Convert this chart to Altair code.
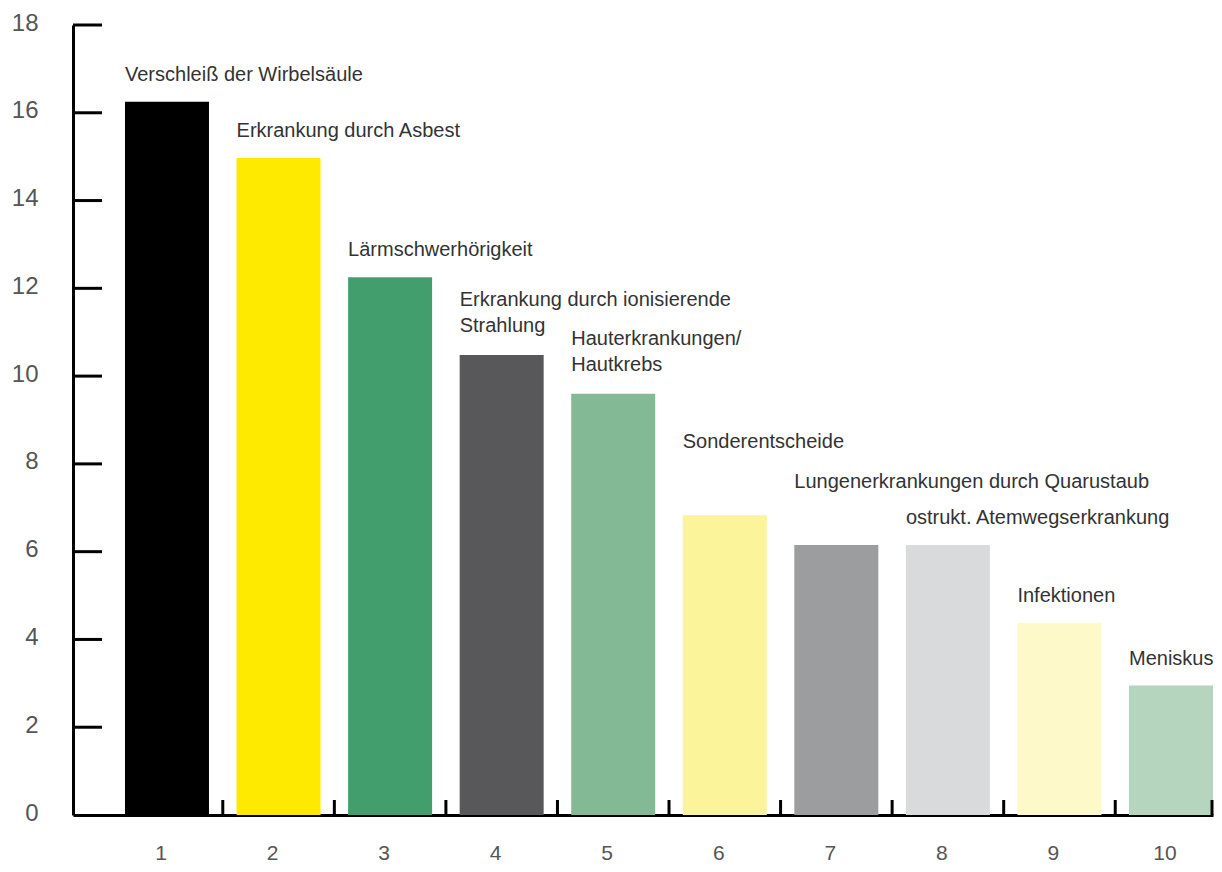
import altair as alt
import pandas as pd

categories = ["1", "2", "3", "4", "5", "6", "7", "8", "9", "10"]
values = [16.25, 14.97, 12.25, 10.48, 9.6, 6.83, 6.15, 6.15, 4.38, 2.95]
labels = [
    "Verschleiß der Wirbelsäule",
    "Erkrankung durch Asbest",
    "Lärmschwerhörigkeit",
    "Erkrankung durch ionisierende|Strahlung",
    "Hauterkrankungen/|Hautkrebs",
    "Sonderentscheide",
    "Lungenerkrankungen durch Quarustaub",
    "ostrukt. Atemwegserkrankung",
    "Infektionen",
    "Meniskus",
]
colors = ["#000000", "#FEEA00", "#439E6E", "#58585A", "#84B995",
          "#FCF49A", "#9C9D9F", "#D9DADB", "#FEF9C8", "#B5D5BE"]
y_ticks = [2, 4, 6, 8, 10, 12, 14, 16, 18]
high_labels = ["6"]
higher_labels = ["7"]

W, H = 1140, 790
FONT = "Liberation Sans"

df = pd.DataFrame({"cat": categories, "value": values, "label": labels})
tick_df = pd.DataFrame({"t": y_ticks})
xtick_df = pd.DataFrame({"cat": categories[:-1]})

xscale = alt.Scale(domain=categories, paddingInner=0.247, paddingOuter=0.233, align=1)
yscale = alt.Scale(domain=[0, 18], nice=False)

xenc = alt.X("cat:N", scale=xscale, sort=categories,
             axis=alt.Axis(title=None, ticks=False, tickSize=0, domainColor="#000000",
                           domainWidth=3, labelFont=FONT, labelFontSize=21,
                           labelColor="#555555", labelPadding=27, labelAngle=0,
                           labelOffset=-6, labelBaseline="top"))
yenc = alt.Y("value:Q", scale=yscale,
             axis=alt.Axis(title=None, values=[0] + y_ticks, ticks=False, tickSize=0,
                           grid=False, domainColor="#000000", domainWidth=3,
                           labelFont=FONT, labelFontSize=24, labelColor="#555555",
                           labelPadding=35, labelBaseline="middle", labelOffset=-2))

bars = alt.Chart(df).mark_bar(size=84).encode(
    x=xenc,
    y=yenc,
    color=alt.Color("cat:N", scale=alt.Scale(domain=categories, range=colors), legend=None),
)

base_text = alt.Chart(df).transform_calculate(
    lines="split(datum.label, '|')",
    nlines="length(split(datum.label, '|'))",
)


def text_layer(dy, flt):
    return base_text.transform_filter(flt).mark_text(
        align="left", baseline="bottom", dy=dy, dx=0, font=FONT, fontSize=20,
        color="#333333", lineHeight=26
    ).encode(
        x=alt.X("cat:N", scale=xscale, sort=categories, bandPosition=0),
        y=alt.Y("value:Q", scale=yscale),
        text="lines:N",
    )


special = high_labels + higher_labels
t_single = text_layer(-17, "datum.nlines == 1 && indexof(%s, datum.cat) < 0" % str(special))
t_multi = text_layer(-45, "datum.nlines == 2")
t_high = text_layer(-53, alt.FieldOneOfPredicate(field="cat", oneOf=higher_labels))
t_higher = text_layer(-63, alt.FieldOneOfPredicate(field="cat", oneOf=high_labels))

yticks = alt.Chart(tick_df).mark_rule(color="#000000", strokeWidth=3).encode(
    y=alt.Y("t:Q", scale=yscale),
    x=alt.value(0),
    x2=alt.value(29),
)

xticks = alt.Chart(xtick_df).mark_rule(color="#000000", strokeWidth=3, xOffset=55.8).encode(
    x=alt.X("cat:N", scale=xscale, sort=categories),
    y=alt.value(H - 15),
    y2=alt.value(H),
)

end_tick = alt.Chart(xtick_df.head(1)).mark_rule(color="#000000", strokeWidth=3).encode(
    x=alt.value(W - 1),
    y=alt.value(H - 15),
    y2=alt.value(H),
)

chart = alt.layer(bars, t_single, t_multi, t_high, t_higher, yticks, xticks, end_tick).properties(
    width=W, height=H,
    autosize=alt.AutoSizeParams(type="none"),
    padding={"left": 65, "top": 17, "right": 1, "bottom": 49},
    view=alt.ViewBackground(stroke="transparent", strokeWidth=0),
).configure_view(stroke="transparent", strokeWidth=0, strokeOpacity=0).configure(background="#ffffff")

chart.save("out.html", embed_options={"renderer": "svg", "actions": False})
